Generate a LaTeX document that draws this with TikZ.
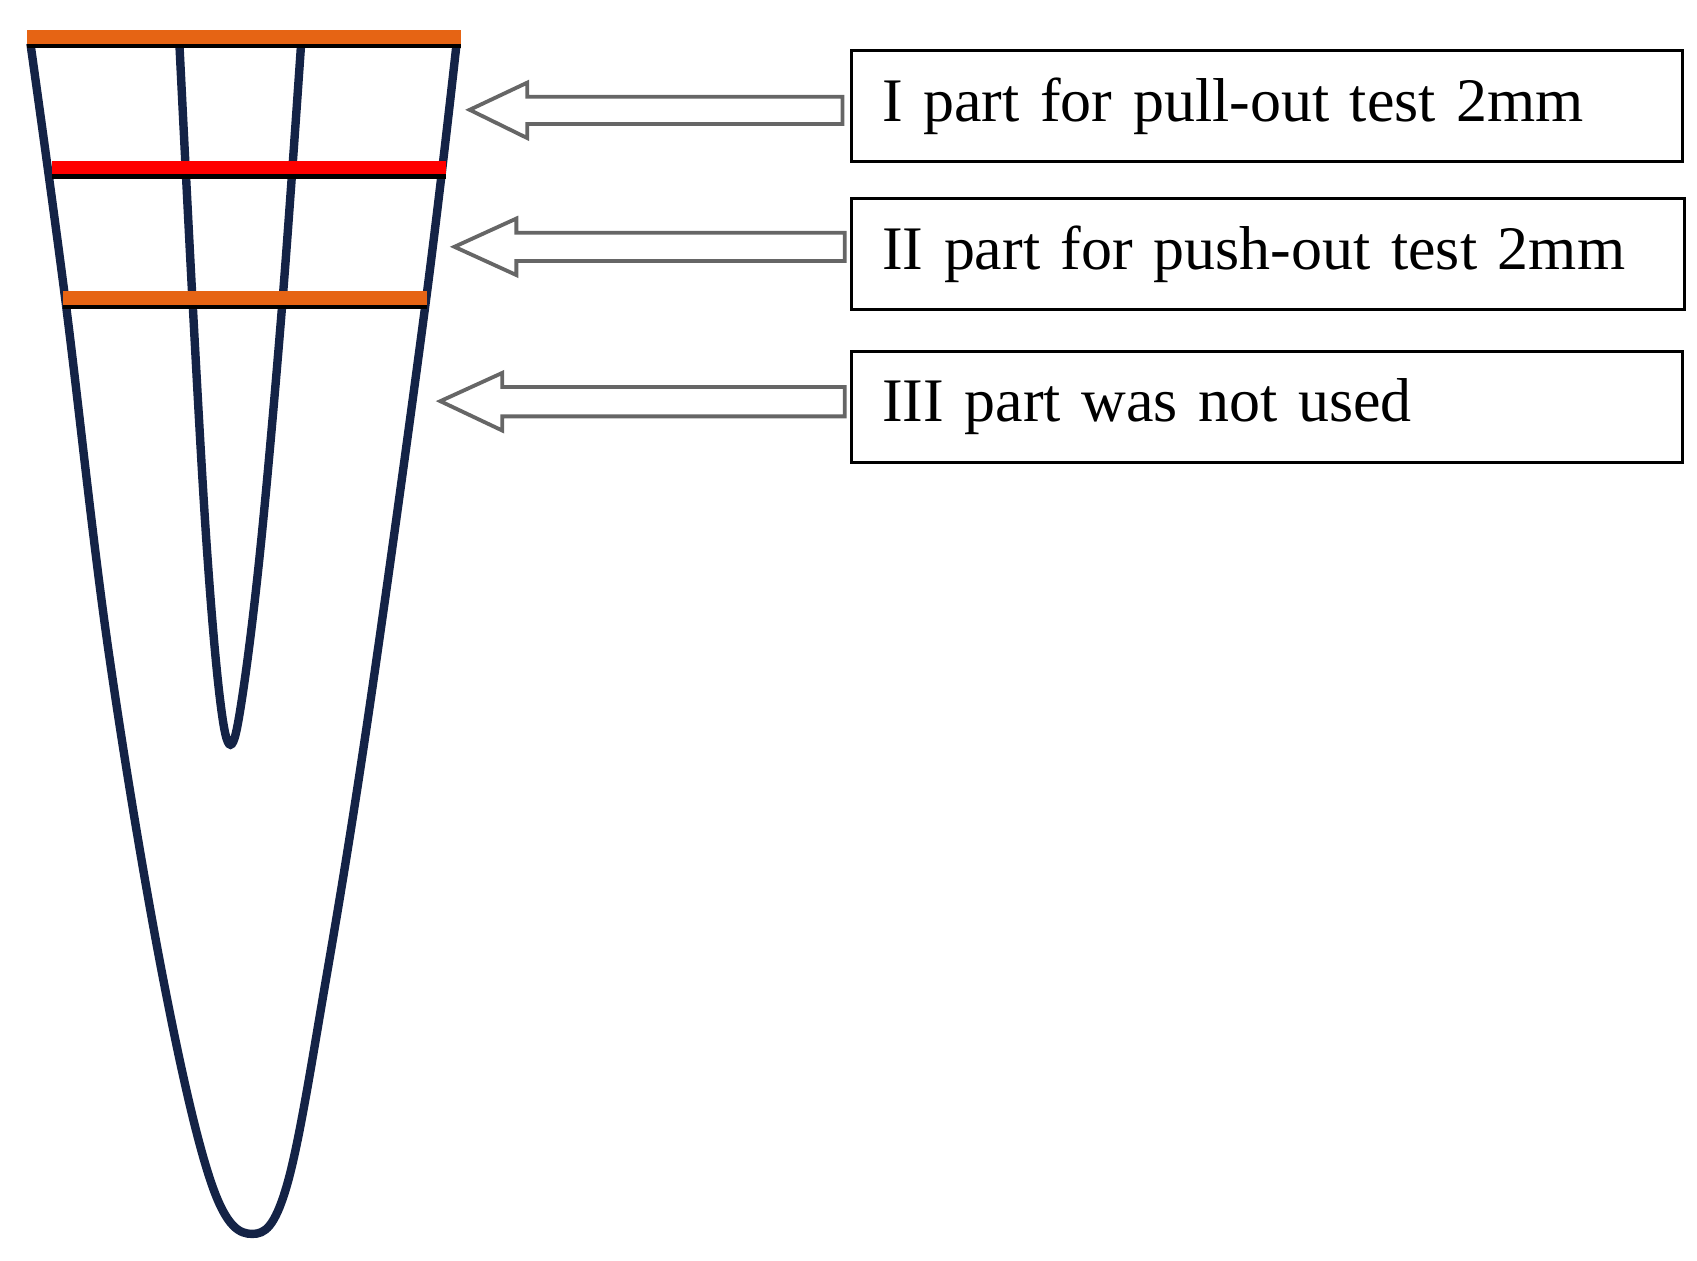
\documentclass[tikz,border=0pt]{standalone}
\usepackage{fontspec}
\setmainfont{Liberation Serif}
\begin{document}
\begin{tikzpicture}[x=0.01cm,y=-0.01cm,
  root/.style={draw=rootblue,line width=2.2pt},
  lbl/.style={draw=black,line width=0.8pt,minimum height=1.02cm,anchor=north west,inner sep=0pt,font=\fontsize{16.2}{20}\selectfont,text width=7.64cm,align=left},
  arr/.style={draw=black!60,line width=1pt,fill=white}]
\definecolor{rootblue}{RGB}{20,35,70}
\definecolor{cutorange}{RGB}{230,100,20}
\useasboundingbox (0,0) rectangle (1561,1159);
% root outline
\draw[root] plot[smooth,tension=0.6] coordinates {(28,40) (60,275) (100,600) (150,900) (195,1090) (232,1135) (264,1090) (300,900) (340,650) (392,275) (420,40)};
% canal
\draw[root] plot[smooth,tension=0.6] coordinates {(165,40) (177,275) (190,500) (202,640) (212,685) (223,640) (240,500) (260,275) (277,40)};
% cut lines
\draw[black,line width=3pt] (25,39) -- (424,39);
\draw[cutorange,line width=3.5pt] (25,34) -- (424,34);
\draw[black,line width=3pt] (48,159) -- (410,159);
\draw[red,line width=3.5pt] (48,154) -- (410,154);
\draw[black,line width=3pt] (58,279) -- (393,279);
\draw[cutorange,line width=3.5pt] (58,274) -- (393,274);
% labels
\node[lbl] (b1) at (782,45) {\hspace*{0.28cm}I part for pull-out test 2mm};
\node[lbl,text width=7.66cm] (b2) at (782,181) {\hspace*{0.28cm}II part for push-out test 2mm};
\node[lbl] (b3) at (782,322) {\hspace*{0.28cm}III part was not used};
% arrows
\draw[arr] (432,101) -- (485,76) -- (485,89) -- (775,89) -- (775,114) -- (485,114) -- (485,127) -- cycle;
\draw[arr] (418,227) -- (475,201) -- (475,214) -- (777,214) -- (777,240) -- (475,240) -- (475,253) -- cycle;
\draw[arr] (405,369) -- (462,343) -- (462,356) -- (777,356) -- (777,383) -- (462,383) -- (462,396) -- cycle;
\end{tikzpicture}
\end{document}
